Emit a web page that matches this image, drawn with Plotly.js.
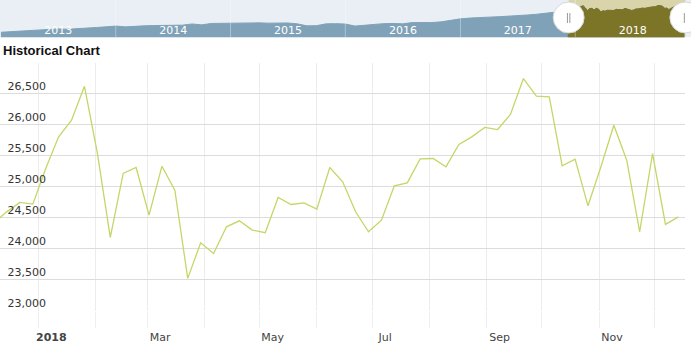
<!DOCTYPE html>
<html>
<head>
<meta charset="utf-8">
<script src="https://cdn.plot.ly/plotly-3.0.1.min.js"></script>
<style>html,body{margin:0;padding:0;background:#fff}#chart{width:691px;height:361px}</style>
</head>
<body>
<div id="chart"></div>
<script>
// Weekly closes shown in the main chart (Fridays)
const weekDates = ['2017-12-08','2017-12-15','2017-12-22','2017-12-29','2018-01-05','2018-01-12','2018-01-19','2018-01-26','2018-02-02','2018-02-09','2018-02-16','2018-02-23','2018-03-02','2018-03-09','2018-03-16','2018-03-23','2018-03-30','2018-04-06','2018-04-13','2018-04-20','2018-04-27','2018-05-04','2018-05-11','2018-05-18','2018-05-25','2018-06-01','2018-06-08','2018-06-15','2018-06-22','2018-06-29','2018-07-06','2018-07-13','2018-07-20','2018-07-27','2018-08-03','2018-08-10','2018-08-17','2018-08-24','2018-08-31','2018-09-07','2018-09-14','2018-09-21','2018-09-28','2018-10-05','2018-10-12','2018-10-19','2018-10-26','2018-11-02','2018-11-09','2018-11-16','2018-11-23','2018-11-30','2018-12-07','2018-12-14'];
const weekVals = [24420,24600,24748,24720,25295,25803,26071,26617,25540,24185,25214,25310,24543,25331,24945,23525,24098,23927,24355,24452,24302,24260,24827,24715,24741,24640,25310,25079,24597,24275,24463,25014,25063,25449,25455,25321,25680,25803,25954,25921,26167,26741,26457,26446,25336,25444,24693,25321,25990,25428,24275,25535,24394,24516];

// Navigator history (monthly, 2013-01 .. 2017-11)
const navDates = ['2013-01-01','2013-02-01','2013-03-01','2013-04-01','2013-05-01','2013-06-01','2013-07-01','2013-08-01','2013-09-01','2013-10-01','2013-11-01','2013-12-01',
'2014-01-01','2014-02-01','2014-03-01','2014-04-01','2014-05-01','2014-06-01','2014-07-01','2014-08-01','2014-09-01','2014-10-01','2014-11-01','2014-12-01',
'2015-01-01','2015-02-01','2015-03-01','2015-04-01','2015-05-01','2015-06-01','2015-07-01','2015-08-01','2015-09-01','2015-10-01','2015-11-01','2015-12-01',
'2016-01-01','2016-02-01','2016-03-01','2016-04-01','2016-05-01','2016-06-01','2016-07-01','2016-08-01','2016-09-01','2016-10-01','2016-11-01','2016-12-01',
'2017-01-01','2017-02-01','2017-03-01','2017-04-01','2017-05-01','2017-06-01','2017-07-01','2017-08-01','2017-09-01','2017-10-01','2017-11-01'];
const navVals = [13400,13700,14070,14400,14600,14900,15100,14900,15100,15400,15800,16100,
16500,16100,16500,16600,16750,16900,17050,16950,17550,17100,17800,17900,
17900,17800,18200,18100,17950,17900,18050,17600,16600,16700,17600,17700,
17500,16500,16900,17600,17700,17800,17600,18250,18150,18250,18600,19400,
20100,20500,20850,20950,21150,21350,21650,22000,22400,22800,23500];

const monthTicks = ['2018-01-01','2018-02-01','2018-03-01','2018-04-01','2018-05-01','2018-06-01','2018-07-01','2018-08-01','2018-09-01','2018-10-01','2018-11-01','2018-12-01'];
const monthLabels = ['<b>2018</b>','','Mar','','May','','Jul','','Sep','','Nov',''];
const yTicks = [23000,23500,24000,24500,25000,25500,26000,26500,27000];
const yLabels = ['23,000','23,500','24,000','24,500','25,000','25,500','26,000','26,500',''];
const navYearBounds = ['2014-01-01','2015-01-01','2016-01-01','2017-01-01','2018-01-01'];
const selStart = '2017-12-11';
const selEnd = '2018-12-17';

const H = 361;
const navX = navDates.concat(weekDates);
const navY = navVals.concat(weekVals);

const traces = [
  {x: navX, y: navY, xaxis: 'x2', yaxis: 'y2', type: 'scatter', mode: 'lines',
   line: {color: '#7fa2b8', width: 1}, fill: 'tozeroy', fillcolor: '#7fa2b8'},
  {x: weekDates, y: weekVals, xaxis: 'x2', yaxis: 'y2', type: 'scatter', mode: 'lines',
   line: {color: '#7c7426', width: 1}, fill: 'tozeroy', fillcolor: '#7c7426'},
  {x: weekDates, y: weekVals, xaxis: 'x', yaxis: 'y', type: 'scatter', mode: 'lines',
   line: {color: '#c3d767', width: 1.3}}
];

const navBottom = (H - 37.3) / H;
const shapes = [
  {type: 'rect', xref: 'paper', yref: 'paper', x0: 0, x1: 1, y0: navBottom, y1: 1,
   fillcolor: '#e9eff5', line: {width: 0}, layer: 'below'},
  {type: 'rect', xref: 'x2', yref: 'paper', x0: selStart, x1: selEnd, y0: navBottom, y1: 1,
   fillcolor: '#d9d4aa', line: {width: 0}, layer: 'below'}
];
navYearBounds.forEach(d => shapes.push({type: 'line', xref: 'x2', yref: 'paper', x0: d, x1: d,
  y0: navBottom, y1: 1, line: {color: 'rgba(255,255,255,0.35)', width: 1}, layer: 'above'}));
[selStart, selEnd].forEach(d => shapes.push({type: 'circle', xref: 'x2', xsizemode: 'pixel', xanchor: d,
  x0: -15.5, x1: 15.5, yref: 'paper', ysizemode: 'pixel', yanchor: 1 - 17.5 / H, y0: -15.5, y1: 15.5,
  fillcolor: '#ffffff', line: {color: '#d6d6d6', width: 1}, layer: 'above'}));
[[selStart, -1.2], [selStart, 1.2], [selEnd, -1]].forEach(p => shapes.push({type: 'line', xref: 'x2',
  xsizemode: 'pixel', xanchor: p[0], x0: p[1], x1: p[1], yref: 'paper', ysizemode: 'pixel',
  yanchor: 1 - 18 / H, y0: -5, y1: 5, line: {color: '#9a9a9a', width: 1}, layer: 'above'}));

const layout = {
  width: 691, height: 361,
  margin: {l: 0, r: 0, t: 0, b: 0},
  paper_bgcolor: '#ffffff', plot_bgcolor: 'rgba(0,0,0,0)',
  showlegend: false, hovermode: false,
  font: {family: 'DejaVu Sans', size: 11, color: '#333'},
  title: {text: 'Historical Chart', x: 3 / 691, xanchor: 'left', y: 1 - 50 / H, yanchor: 'middle',
          font: {family: 'Liberation Sans', size: 13, weight: 700, color: '#111'}},
  xaxis: {domain: [0, 685 / 691], anchor: 'y', type: 'date',
          range: ['2017-12-11 05:00', '2018-12-17 14:00'],
          tickvals: monthTicks, ticktext: monthLabels, ticklabelshift: 13,
          showgrid: true, gridcolor: '#ececec', gridwidth: 1,
          ticks: 'outside', ticklen: 16, tickcolor: '#eeeeee',
          tickfont: {size: 11, color: '#444'}, showline: false, zeroline: false, automargin: false},
  yaxis: {domain: [50 / H, 298.5 / H], anchor: 'free', position: 46 / 691, range: [23000, 27000],
          tickvals: yTicks, ticktext: yLabels, ticklabelposition: 'outside top',
          gridcolor: '#dcdcdc', gridwidth: 1, showline: false, zeroline: false, ticks: '',
          tickfont: {size: 11, color: '#333'}, automargin: false},
  xaxis2: {domain: [0, 1], anchor: 'y2', type: 'date', range: ['2012-12-29', '2019-01-04'],
           tick0: '2013-01-01', dtick: 'M12', tickformat: '%Y', ticklabelmode: 'period',
           ticklabelposition: 'inside', ticklabelstandoff: -2, showgrid: false, ticks: '', zeroline: false, showline: false,
           tickfont: {size: 11, color: '#ffffff'}, layer: 'above traces', automargin: false},
  yaxis2: {domain: [navBottom, 1], anchor: 'x2', range: [10900, 29500], visible: false},
  shapes: shapes
};

Plotly.newPlot('chart', traces, layout, {staticPlot: true, displayModeBar: false});
</script>
</body>
</html>
